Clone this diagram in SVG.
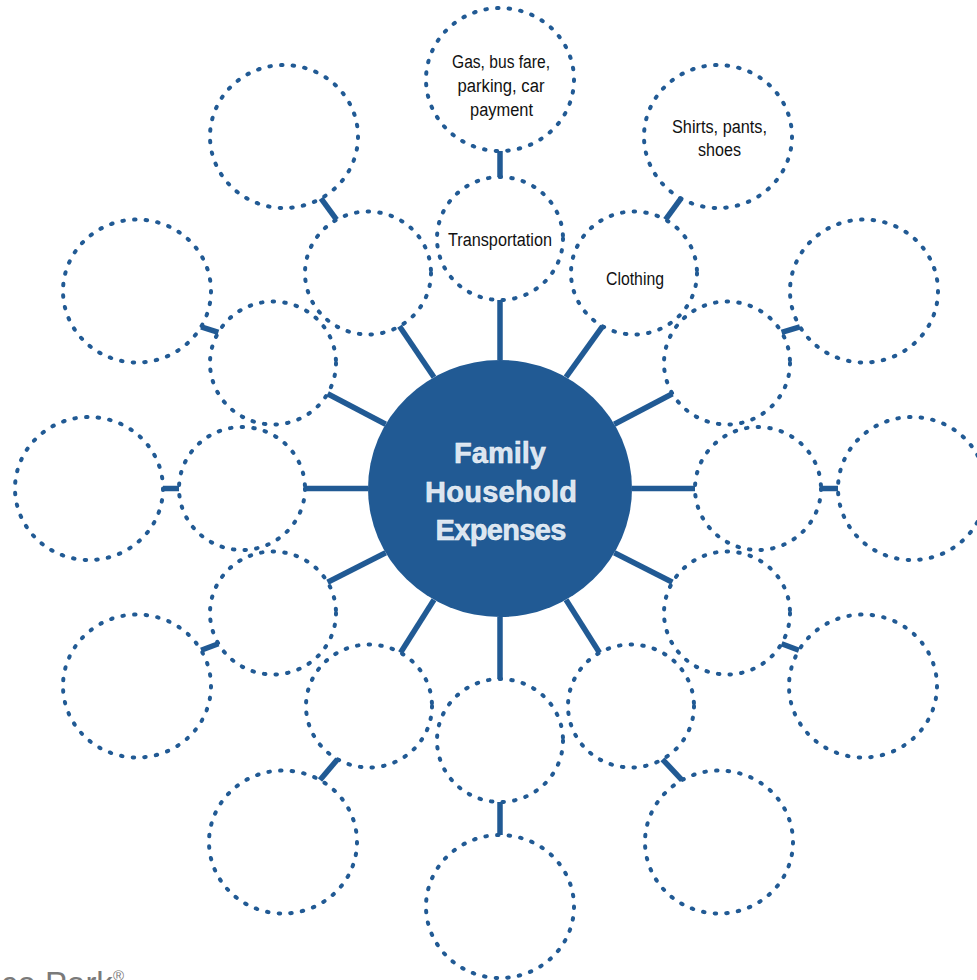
<svg xmlns="http://www.w3.org/2000/svg" width="977" height="980" viewBox="0 0 977 980">
<style>
.dot{fill:none;stroke:#215a94;stroke-width:4;stroke-dasharray:1.5 10.2;stroke-linecap:round}
.con{stroke:#215a94;stroke-width:5.5;fill:none}
.lbl{font-family:"Liberation Sans Narrow","Liberation Sans",Arial,sans-serif;font-size:18px;fill:#111;text-anchor:middle}
.ctr{font-family:"Liberation Sans",Arial,sans-serif;font-weight:bold;font-size:29px;fill:#dbe5f0;stroke:#f4f7fa;stroke-width:0.5;text-anchor:middle}
</style>
<rect width="977" height="980" fill="#ffffff"/>
<g id="connectors">
<line class="con" x1="500" y1="360" x2="500" y2="300"/>
<line class="con" x1="566" y1="377.2" x2="602.5" y2="326.3"/>
<line class="con" x1="614.3" y1="424.3" x2="672.4" y2="393.8"/>
<line class="con" x1="632" y1="488.5" x2="695" y2="488.5"/>
<line class="con" x1="614.3" y1="552.8" x2="672.4" y2="582.3"/>
<line class="con" x1="566" y1="599.8" x2="599.5" y2="652.7"/>
<line class="con" x1="500" y1="617" x2="500" y2="679"/>
<line class="con" x1="434" y1="599.8" x2="400.5" y2="652.7"/>
<line class="con" x1="385.7" y1="552.8" x2="327.6" y2="582.3"/>
<line class="con" x1="368" y1="488.5" x2="305" y2="488.5"/>
<line class="con" x1="385.7" y1="424.3" x2="327.6" y2="393.8"/>
<line class="con" x1="434" y1="377.2" x2="399.5" y2="326.3"/>
<line class="con" x1="500" y1="177" x2="500" y2="151"/>
<line class="con" x1="665.5" y1="219.7" x2="681" y2="198.4"/>
<line class="con" x1="781.6" y1="332.3" x2="799.9" y2="326.8"/>
<line class="con" x1="821" y1="488.5" x2="838" y2="488.5"/>
<line class="con" x1="781.6" y1="643.8" x2="798.9" y2="650.3"/>
<line class="con" x1="662.5" y1="759.3" x2="682" y2="780.1"/>
<line class="con" x1="500" y1="802" x2="500" y2="835"/>
<line class="con" x1="337.5" y1="759.3" x2="320" y2="780.1"/>
<line class="con" x1="218.4" y1="643.8" x2="201.1" y2="650.3"/>
<line class="con" x1="179" y1="488.5" x2="163" y2="488.5"/>
<line class="con" x1="218.4" y1="332.3" x2="201.1" y2="326.8"/>
<line class="con" x1="336.5" y1="219.7" x2="321" y2="198.4"/>
</g>
<g id="center">
<ellipse cx="500" cy="488.5" rx="132" ry="128.5" fill="#215a94"/>
<text class="ctr" x="500" y="463" textLength="92">Family</text>
<text class="ctr" x="501" y="502" textLength="152">Household</text>
<text class="ctr" x="501" y="540" textLength="131">Expenses</text>
</g>
<g id="inner-transportation"><ellipse class="dot" cx="500" cy="238.5" rx="63" ry="61.5"/><text class="lbl" x="500" y="246" textLength="104" lengthAdjust="spacingAndGlyphs">Transportation</text></g>
<g id="inner-clothing"><ellipse class="dot" cx="634" cy="273" rx="63" ry="61.5"/><text class="lbl" x="635" y="285" textLength="58" lengthAdjust="spacingAndGlyphs">Clothing</text></g>
<g id="inner-3"><ellipse class="dot" cx="727" cy="363" rx="63" ry="61.5"/></g>
<g id="inner-4"><ellipse class="dot" cx="758" cy="488.5" rx="63" ry="61.5"/></g>
<g id="inner-5"><ellipse class="dot" cx="727" cy="613" rx="63" ry="61.5"/></g>
<g id="inner-6"><ellipse class="dot" cx="631" cy="706" rx="63" ry="61.5"/></g>
<g id="inner-7"><ellipse class="dot" cx="500" cy="740.5" rx="63" ry="61.5"/></g>
<g id="inner-8"><ellipse class="dot" cx="369" cy="706" rx="63" ry="61.5"/></g>
<g id="inner-9"><ellipse class="dot" cx="273" cy="613" rx="63" ry="61.5"/></g>
<g id="inner-10"><ellipse class="dot" cx="242" cy="488.5" rx="63" ry="61.5"/></g>
<g id="inner-11"><ellipse class="dot" cx="273" cy="363" rx="63" ry="61.5"/></g>
<g id="inner-12"><ellipse class="dot" cx="368" cy="273" rx="63" ry="61.5"/></g>
<g id="outer-transportation"><ellipse class="dot" cx="500" cy="79.5" rx="74" ry="71.5"/>
<text class="lbl" x="501" y="68" textLength="98" lengthAdjust="spacingAndGlyphs">Gas, bus fare,</text>
<text class="lbl" x="501" y="92" textLength="87" lengthAdjust="spacingAndGlyphs">parking, car</text>
<text class="lbl" x="501.5" y="116" textLength="63" lengthAdjust="spacingAndGlyphs">payment</text></g>
<g id="outer-clothing"><ellipse class="dot" cx="718" cy="136.5" rx="74" ry="71.5"/>
<text class="lbl" x="719.5" y="133" textLength="95" lengthAdjust="spacingAndGlyphs">Shirts, pants,</text>
<text class="lbl" x="719.5" y="156" textLength="43" lengthAdjust="spacingAndGlyphs">shoes</text></g>
<g id="outer-3"><ellipse class="dot" cx="864" cy="291" rx="74" ry="71.5"/></g>
<g id="outer-4"><ellipse class="dot" cx="912" cy="488.5" rx="74" ry="71.5"/></g>
<g id="outer-5"><ellipse class="dot" cx="863" cy="686" rx="74" ry="71.5"/></g>
<g id="outer-6"><ellipse class="dot" cx="719" cy="842" rx="74" ry="71.5"/></g>
<g id="outer-7"><ellipse class="dot" cx="500" cy="906.5" rx="74" ry="71.5"/></g>
<g id="outer-8"><ellipse class="dot" cx="283" cy="842" rx="74" ry="71.5"/></g>
<g id="outer-9"><ellipse class="dot" cx="137" cy="686" rx="74" ry="71.5"/></g>
<g id="outer-10"><ellipse class="dot" cx="89" cy="488.5" rx="74" ry="71.5"/></g>
<g id="outer-11"><ellipse class="dot" cx="137" cy="291" rx="74" ry="71.5"/></g>
<g id="outer-12"><ellipse class="dot" cx="284" cy="136.5" rx="74" ry="71.5"/></g>
<text x="1" y="995" font-family="Liberation Sans, Arial, sans-serif" font-size="33" fill="#7a7a7a">ce Park<tspan font-size="15" dy="-14">®</tspan></text>
</svg>
